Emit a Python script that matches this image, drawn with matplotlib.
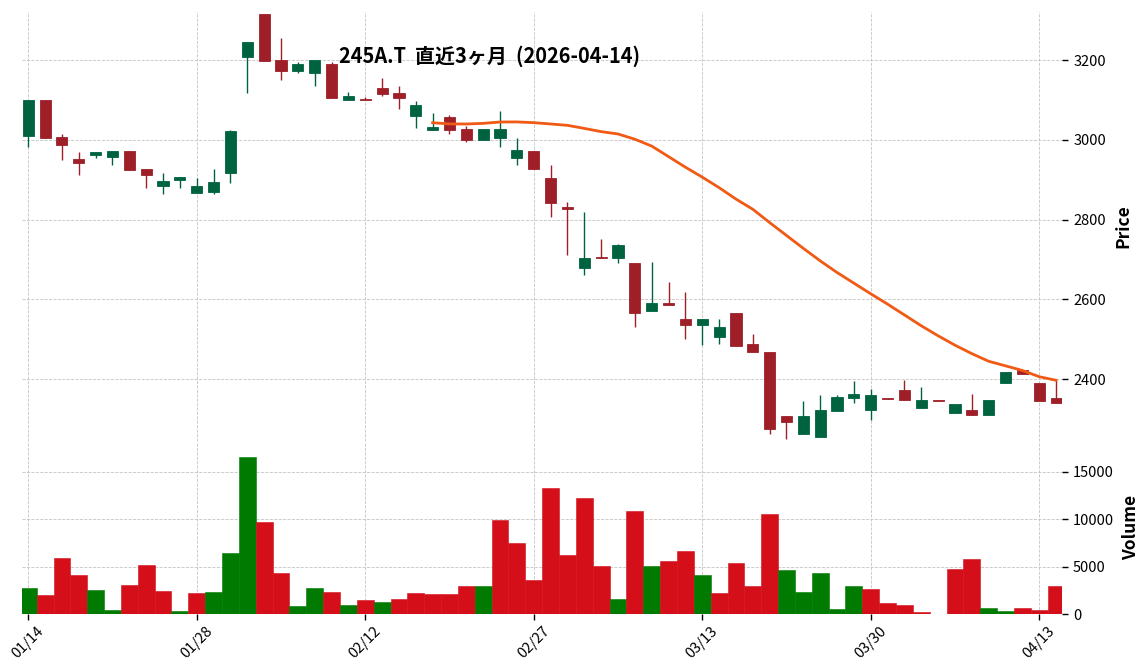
#candlestick chart with volume panel and 25 day moving average

import matplotlib
matplotlib.use('Agg')
import matplotlib.pyplot as plt
from matplotlib.patches import Rectangle
import numpy as np
import pandas as pd

plt.rcParams['font.family'] = ['Noto Sans CJK JP', 'DejaVu Sans']

title = '245A.T  直近3ヶ月  (2026-04-14)'

dates = ['01/14', '01/15', '01/16', '01/19', '01/20', '01/21', '01/22', '01/23', '01/26', '01/27',
		'01/28', '01/29', '01/30', '02/02', '02/03', '02/04', '02/05', '02/06', '02/09', '02/10',
		'02/12', '02/13', '02/16', '02/17', '02/18', '02/19', '02/20', '02/24', '02/25', '02/26',
		'02/27', '03/02', '03/03', '03/04', '03/05', '03/06', '03/09', '03/10', '03/11', '03/12',
		'03/13', '03/16', '03/17', '03/18', '03/19', '03/23', '03/24', '03/25', '03/26', '03/27',
		'03/30', '03/31', '04/01', '04/02', '04/03', '04/06', '04/07', '04/08', '04/09', '04/10',
		'04/13', '04/14']

opens = [3010, 3100, 3007, 2952, 2963, 2958, 2972, 2927, 2885, 2900,
		2867, 2869, 2917, 3209, 3317, 3200, 3174, 3169, 3191, 3101,
		3103, 3130, 3118, 3061, 3026, 3057, 3027, 3000, 3005, 2956,
		2972, 2905, 2833, 2678, 2707, 2703, 2692, 2570, 2592, 2551,
		2535, 2505, 2567, 2489, 2469, 2308, 2263, 2255, 2320, 2354,
		2323, 2353, 2373, 2328, 2348, 2316, 2323, 2311, 2390, 2423,
		2391, 2353]

highs = [3100, 3100, 3016, 2971, 2969, 2972, 2972, 2927, 2916, 2906,
		2904, 2926, 3026, 3246, 3317, 3255, 3196, 3200, 3196, 3120,
		3108, 3155, 3135, 3097, 3067, 3062, 3036, 3027, 3072, 3006,
		2972, 2937, 2844, 2819, 2752, 2739, 2692, 2694, 2644, 2618,
		2551, 2551, 2567, 2513, 2469, 2308, 2345, 2360, 2360, 2395,
		2375, 2353, 2398, 2380, 2348, 2338, 2362, 2348, 2418, 2423,
		2391, 2398]

lows = [2983, 3005, 2951, 2911, 2956, 2936, 2924, 2880, 2865, 2880,
		2867, 2865, 2892, 3117, 3198, 3150, 3169, 3135, 3106, 3101,
		3100, 3111, 3077, 3031, 3026, 3016, 2995, 3000, 2982, 2937,
		2927, 2807, 2711, 2661, 2703, 2691, 2531, 2570, 2585, 2500,
		2485, 2488, 2484, 2467, 2262, 2251, 2263, 2255, 2320, 2340,
		2298, 2351, 2348, 2328, 2346, 2316, 2311, 2311, 2390, 2414,
		2345, 2341]

closes = [3100, 3005, 2988, 2942, 2969, 2972, 2924, 2912, 2896, 2906,
		2884, 2894, 3022, 3246, 3198, 3174, 3191, 3200, 3106, 3111,
		3101, 3116, 3106, 3087, 3032, 3026, 3000, 3027, 3027, 2974,
		2927, 2841, 2826, 2705, 2703, 2737, 2565, 2592, 2585, 2535,
		2551, 2531, 2484, 2467, 2276, 2293, 2308, 2323, 2356, 2363,
		2360, 2351, 2348, 2348, 2346, 2338, 2311, 2348, 2418, 2414,
		2345, 2341]

volumes = [2770, 2020, 5960, 4150, 2550, 430, 3090, 5210, 2450, 320,
		2230, 2340, 6490, 16600, 9680, 4360, 850, 2770, 2340, 960,
		1490, 1280, 1600, 2230, 2130, 2130, 2980, 2980, 9890, 7450,
		3620, 13300, 6280, 12230, 5110, 1600, 10850, 5110, 5640, 6600,
		4150, 2230, 5430, 2980, 10530, 4680, 2340, 4360, 530, 2980,
		2660, 1170, 960, 210, 0, 4790, 5850, 640, 320, 640,
		430, 2980]

mav = 25

#colours
up_col = '#006340'
down_col = '#9e1f28'
vup_col = '#007a00'
vdown_col = '#d50f1a'
mav_col = '#f05a14'
grid_col = '#c4c4c4'

W, H = 1144, 670


def style_axis(ax):
	for s in ax.spines.values():
		s.set_visible(False)
	ax.set_axisbelow(True)
	ax.grid(True, linestyle='--', color=grid_col, linewidth=0.6)
	ax.yaxis.tick_right()
	ax.yaxis.set_label_position('right')
	ax.tick_params(axis='y', length=4, width=1, labelsize=10.5, pad=4)


def draw_candles(ax, o, h, l, c, width=0.66):
	cols = np.where(c > o, up_col, down_col)
	x = np.arange(len(o))
	ax.vlines(x, l, h, colors=cols, linewidth=1.0, zorder=2)
	for i in range(len(o)):
		bot = min(o[i], c[i])
		ht = abs(c[i] - o[i])
		ax.add_patch(Rectangle((x[i] - width/2, bot), width, ht, facecolor=cols[i],
					edgecolor=cols[i], linewidth=0.6, zorder=3))


def run():
	o = np.array(opens, float)
	h = np.array(highs, float)
	l = np.array(lows, float)
	c = np.array(closes, float)
	v = np.array(volumes, float)
	n = len(dates)
	x = np.arange(n)

	#volume colour uses previous close
	vcols = [vup_col if c[0] > o[0] else vdown_col]
	vcols += [vup_col if c[i] > c[i-1] else vdown_col for i in range(1, n)]

	ma = pd.Series(c).rolling(mav).mean()

	fig = plt.figure(figsize=(W/100, H/100), dpi=100)
	left, right = 22/W, 1062/W
	ax = fig.add_axes([left, 1 - 441/H, right - left, 429/H])
	axv = fig.add_axes([left, 1 - 614/H, right - left, 173/H], sharex=ax)

	style_axis(ax)
	style_axis(axv)

	draw_candles(ax, o, h, l, c)
	ax.plot(x, ma, color=mav_col, linewidth=2, zorder=4)

	axv.bar(x, v, width=1.0, color=vcols, edgecolor=vcols, linewidth=0.4, zorder=2)

	ax.set_xlim(-0.37, 61.35)
	ax.set_ylim(l.min() - 6, h.max() + 4)
	axv.set_ylim(0, v.max() * 1.1)

	ticks = list(range(0, n, 10))
	axv.set_xticks(ticks)
	axv.set_xticklabels([dates[i] for i in ticks], rotation=45, ha='center', fontsize=10.5)
	axv.tick_params(axis='x', length=4, width=1)
	ax.tick_params(axis='x', length=0, labelbottom=False)

	ax.set_yticks([2400, 2600, 2800, 3000, 3200])
	axv.set_yticks([0, 5000, 10000, 15000])
	axv.set_yticklabels(['0', '5000', '10000', '15000'])

	ax.set_ylabel('Price', fontsize=12.5, fontweight='bold', labelpad=6)
	axv.set_ylabel('Volume', fontsize=12.5, fontweight='bold', labelpad=6)

	fig.text(490/W, 1 - 56/H, title, ha='center', va='center', fontsize=14.4, fontweight='bold')

	fig.savefig('out.png', dpi=100)
	plt.close(fig)


if __name__ == "__main__":
	run()
